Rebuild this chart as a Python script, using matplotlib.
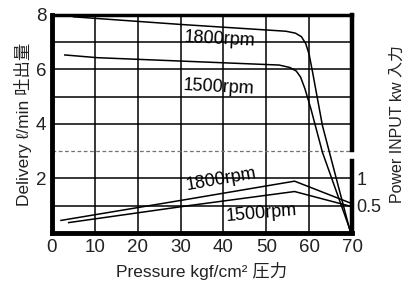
import numpy as np
import matplotlib
matplotlib.use('Agg')
import matplotlib.pyplot as plt

plt.rcParams['font.family'] = ['Liberation Sans', 'DejaVu Sans', 'Noto Sans CJK JP']

# 吐出量 (ℓ/min)
p_1800 = [5, 30, 54.6, 56.8, 58.2, 59.2, 60.0, 60.8, 63.1, 69.5]
q_1800 = [7.93, 7.65, 7.4, 7.33, 7.2, 6.95, 6.55, 5.9, 3.94, 0.1]
p_1500 = [3, 10.6, 53, 55.5, 57.0, 58.0, 59.0, 60.4, 63.1, 69.8]
q_1500 = [6.53, 6.43, 6.16, 6.07, 5.94, 5.72, 5.3, 4.56, 2.96, 0.0]

# 入力 (kW)
pw_p_1800 = [2.1, 31.8, 56.6, 69.6]
pw_1800 = [0.23, 0.62, 0.95, 0.55]
pw_p_1500 = [3.9, 31.8, 56.6, 69.6]
pw_1500 = [0.19, 0.5, 0.76, 0.49]

x_ticks = [0, 10, 20, 30, 40, 50, 60, 70]
q_ticks = [2, 4, 6, 8]
pw_ticks = [0.5, 1]

fig = plt.figure(figsize=(4.06, 2.81), dpi=100)
ax = fig.add_axes([0.128, 0.171, 0.739, 0.776])
ax.set_xlim(0, 70)
ax.set_ylim(0, 8)

# グリッド
for gx in range(10, 70, 10):
    ax.axvline(gx, color='black', lw=1.1, zorder=1)
for gy in range(1, 8):
    if gy == 3:
        ax.axhline(gy, color='0.45', lw=0.9, ls=(0, (3, 2)), zorder=1)
    else:
        ax.axhline(gy, color='black', lw=1.1, zorder=1)

ax.plot(p_1800, q_1800, color='black', lw=1.1, zorder=3)
ax.plot(p_1500, q_1500, color='black', lw=1.1, zorder=3)

ax.text(39.2, 7.1, '1800rpm', fontsize=13, ha='center', va='center', rotation=-3)
ax.text(39.0, 5.33, '1500rpm', fontsize=13, ha='center', va='center', rotation=-3)

ax.set_xticks(x_ticks)
ax.set_yticks(q_ticks)
ax.tick_params(length=0, labelsize=13.5, pad=4, colors='#222222')
ax.set_xlabel('Pressure kgf/cm² 圧力', fontsize=12.5, color='#222222', labelpad=5)
ax.set_ylabel('Delivery ℓ/min 吐出量', fontsize=12.5, color='#222222', labelpad=3)

for side in ['left', 'bottom']:
    ax.spines[side].set_linewidth(3.5)
ax.spines['top'].set_linewidth(2.5)
ax.spines['right'].set_visible(False)
ax.axvline(70, ymin=0, ymax=0.33, color='black', lw=3.2, clip_on=False, zorder=5)
ax.axvline(70, ymin=0.38, ymax=1, color='black', lw=3.2, clip_on=False, zorder=5)

ax2 = ax.twinx()
ax2.set_ylim(0, 4)
ax2.plot(pw_p_1800, pw_1800, color='black', lw=1.1)
ax2.plot(pw_p_1500, pw_1500, color='black', lw=1.1)
ax2.text(39.4, 0.98, '1800rpm', fontsize=13, ha='center', va='center', rotation=10)
ax2.text(48.8, 0.36, '1500rpm', fontsize=13, ha='center', va='center', rotation=5)
ax2.set_yticks(pw_ticks)
ax2.set_yticklabels(['0.5', '1'])
ax2.tick_params(length=0, labelsize=13, pad=3, colors='#222222')
ax2.set_ylabel('Power INPUT kw 入力', fontsize=11.5, color='#222222', labelpad=6)
for s in ax2.spines.values():
    s.set_visible(False)

fig.savefig('out.png', dpi=100, facecolor='white')
